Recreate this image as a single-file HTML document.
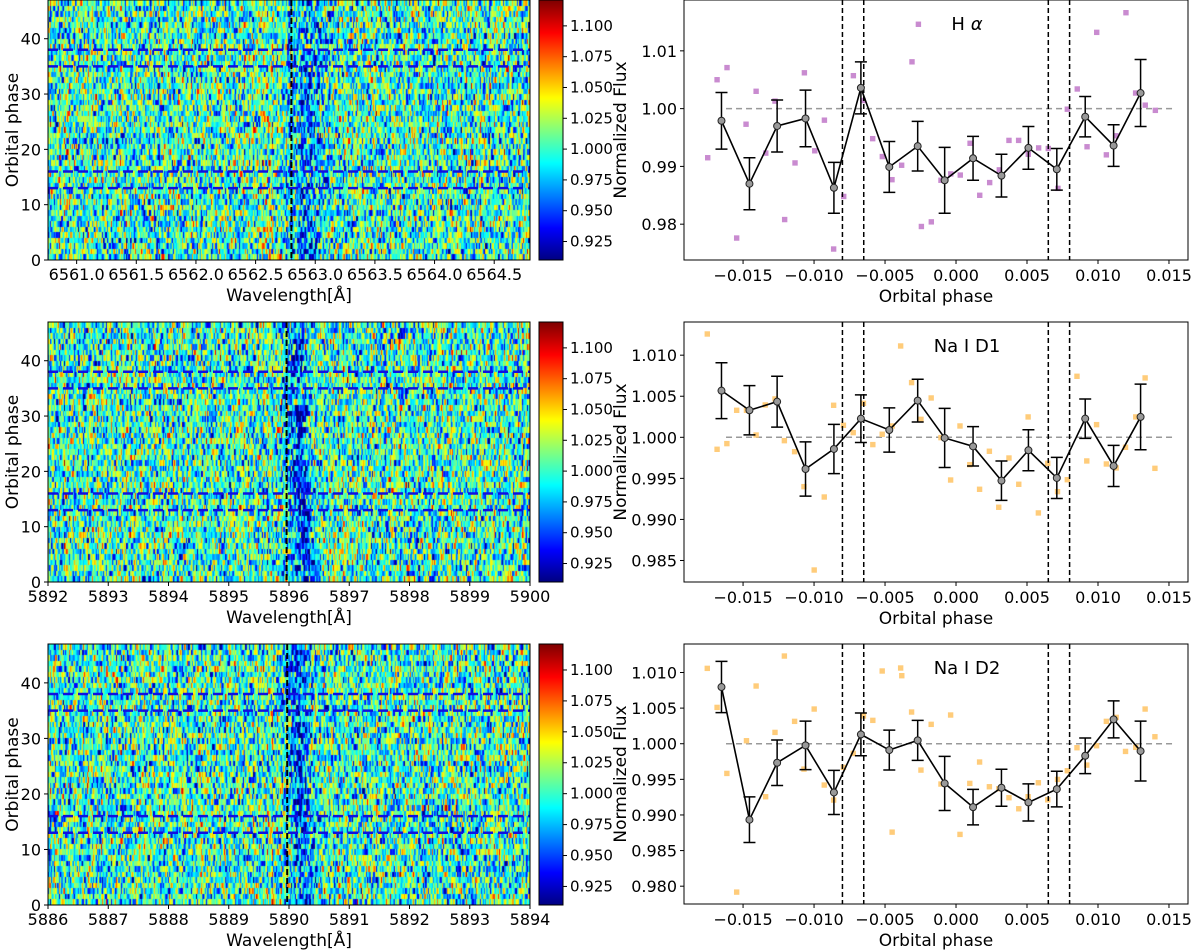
<!DOCTYPE html>
<html><head><meta charset="utf-8"><style>
body{margin:0;background:#fff;width:1200px;height:950px;overflow:hidden;position:relative;font-family:"DejaVu Sans","Liberation Sans",sans-serif}
canvas{position:absolute}
svg{position:absolute;left:0;top:0}
</style></head><body>
<canvas id="hm0" width="482" height="260" style="left:48px;top:0px"></canvas>
<canvas id="hm1" width="482" height="260" style="left:48px;top:322px"></canvas>
<canvas id="hm2" width="482" height="261" style="left:48px;top:644px"></canvas>
<canvas id="cb0" width="24" height="260" style="left:539px;top:0px"></canvas>
<canvas id="cb1" width="24" height="260" style="left:539px;top:322px"></canvas>
<canvas id="cb2" width="24" height="261" style="left:539px;top:644px"></canvas>
<svg id="svg" width="1200" height="950" xmlns="http://www.w3.org/2000/svg"></svg>
<script>
// ---------- data ----------
const heatWaveMin = [6560.76, 5892, 5886];
const heatWaveMax = [6564.80, 5900, 5894];
const heatWaveTicks = [[6561.0,6561.5,6562.0,6562.5,6563.0,6563.5,6564.0,6564.5],[5892,5893,5894,5895,5896,5897,5898,5899,5900],[5886,5887,5888,5889,5890,5891,5892,5893,5894]];
const heatWaveTickDigits = [1,0,0];
const heatLineCenter = [6562.80, 5895.96, 5889.97];
const heatDipCenter = [6562.92, 5896.12, 5890.12];
const heatDipDepth = [0.03, 0.05, 0.05];
const heatDipWidth = [0.12, 0.12, 0.12];
const heatPhaseTicks = [0,10,20,30,40];
const heatPhaseMax = 47;
const heatBlueLines = [38,35,16,13];
const cbTicks = [1.100,1.075,1.050,1.025,1.000,0.975,0.950,0.925];
const cbMin = 0.910, cbMax = 1.121;

const binPhase = [-0.01652,-0.01455,-0.0126,-0.0106,-0.0086,-0.0067,-0.0047,-0.0027,-0.0008,0.0012,0.0032,0.0051,0.0071,0.0091,0.0111,0.0130];
const haBin = [0.9979,0.9870,0.9970,0.9983,0.9863,1.0036,0.9899,0.9935,0.9876,0.9914,0.9884,0.9932,0.9895,0.9986,0.9936,1.0027];
const haErr = [0.0049,0.0045,0.0045,0.0049,0.0044,0.0045,0.0044,0.0043,0.0057,0.0038,0.0037,0.0037,0.0036,0.0035,0.0036,0.0058];
const d1Bin = [1.00568,1.00329,1.00434,0.99614,0.99858,1.00227,1.00089,1.00447,0.99992,0.9989,0.99472,0.99842,0.99505,1.00227,0.99651,1.00248];
const d1Err = [0.0034,0.0030,0.0031,0.0033,0.0030,0.0029,0.0027,0.0026,0.0036,0.0024,0.0024,0.0025,0.0025,0.0024,0.0025,0.0040];
const d2Bin = [1.00796,0.98933,0.99733,0.99977,0.99316,1.00131,0.99911,1.00047,0.99443,0.99110,0.99382,0.99176,0.99363,0.99831,1.00342,0.99897];
const d2Err = [0.0036,0.0032,0.0032,0.0034,0.0031,0.0030,0.0028,0.0028,0.0038,0.0025,0.0026,0.0026,0.0025,0.0025,0.0026,0.0042];

const haRawPhase = [-0.01749,-0.01683,-0.01613,-0.01545,-0.01479,-0.01408,-0.0134,-0.01275,-0.01207,-0.01134,-0.01068,-0.00995,-0.00927,-0.00862,-0.00791,-0.00723,-0.00655,-0.00587,-0.00519,-0.00451,-0.00383,-0.0031,-0.00265,-0.00244,-0.00174,-0.00106,-0.00037,0.0003,0.00099,0.00167,0.00237,0.00305,0.00373,0.00441,0.00509,0.00582,0.0065,0.00718,0.00784,0.00854,0.00923,0.00991,0.01059,0.01127,0.01197,0.01265,0.01333,0.01404];
const haRaw = [0.9915,1.0050,1.0071,0.9776,0.9973,1.0030,0.9923,1.0013,0.9808,0.9906,1.0062,0.9927,0.9980,0.9757,0.9848,1.0057,1.0014,0.9948,0.9917,0.9877,0.9902,1.0081,1.0146,0.9796,0.9804,0.9876,0.9887,0.9885,0.9940,0.9850,0.9872,0.9894,0.9945,0.9945,0.9921,0.9932,0.9931,0.9862,0.9999,1.0034,0.9934,1.0132,0.9920,0.9953,1.0166,1.0027,1.0006,0.9997];
const d1RawPhase = [-0.01752,-0.01683,-0.01614,-0.01545,-0.01476,-0.01408,-0.01344,-0.01275,-0.01209,-0.01137,-0.01071,-0.00999,-0.00928,-0.00862,-0.00793,-0.00724,-0.00652,-0.00586,-0.0052,-0.0045,-0.0039,-0.00313,-0.00247,-0.00175,-0.00106,-0.00038,0.00028,0.00097,0.00166,0.00235,0.00301,0.00373,0.00442,0.00508,0.0058,0.00646,0.00715,0.00784,0.00852,0.00921,0.0099,0.01059,0.01128,0.01194,0.01266,0.01332,0.01401];
const d1Raw = [1.01258,0.99854,0.99923,1.00329,1.00329,1.00028,1.00394,1.00467,0.99959,0.99825,0.99399,0.98384,0.99273,1.0039,1.00146,1.00057,1.00414,0.99911,1.00037,1.00138,1.01112,1.00666,1.00219,1.00479,0.99996,0.9948,1.00138,0.99667,0.99367,0.9983,0.99148,0.99748,0.99428,1.00248,0.99079,0.99683,0.99338,0.99484,1.00743,0.99712,1.00154,0.99675,0.99627,0.99878,1.00248,1.00723,0.99622];
const d2RawPhase = [-0.01752,-0.01683,-0.01614,-0.01545,-0.01476,-0.01408,-0.01341,-0.01275,-0.01209,-0.01137,-0.01071,-0.00999,-0.00928,-0.00862,-0.00793,-0.00724,-0.00652,-0.00586,-0.0052,-0.0045,-0.0039,-0.00382,-0.00313,-0.00247,-0.00175,-0.00106,-0.00038,0.00028,0.00097,0.00166,0.00235,0.00301,0.00373,0.00442,0.00508,0.0058,0.00646,0.00715,0.00784,0.00852,0.00921,0.0099,0.01059,0.01128,0.01194,0.01266,0.01332,0.01401];
const d2Raw = [1.01058,1.0051,0.99583,0.97917,1.00042,1.0081,0.99256,1.00159,1.01231,1.00314,0.99644,1.00487,0.9942,0.99209,0.99668,0.99864,1.00389,1.00328,1.01021,0.98759,1.01063,1.00955,1.00445,0.9963,1.00272,0.99434,1.00403,0.98727,0.99443,0.99743,0.99396,0.99368,0.99242,0.99087,0.99256,0.99452,0.99213,0.99499,0.99621,0.99944,0.997,0.99972,1.00314,1.0037,0.99892,0.99949,1.00487,1.00098];
const transitLines = [-0.0080,-0.0065,0.0065,0.0080];
const phaseTicks = [-0.015,-0.010,-0.005,0.000,0.005,0.010,0.015];
const fluxTicks = [[0.98,0.99,1.00,1.01],[0.985,0.990,0.995,1.000,1.005,1.010],[0.980,0.985,0.990,0.995,1.000,1.005,1.010]];
const fluxTickDigits = [2,3,3];
const fluxMin = [0.9738,0.98238,0.9775], fluxMax = [1.0188,1.01404,1.0140];
const panelTitles = ["H ","Na I D1","Na I D2"];

// ---------- layout ----------
const panelTop = [0,322,644], panelBot = [260,582,905];
const hmL = 48, hmR = 530, cbL = 539, cbR = 563;
const axL = 684, axR = 1188, phMin = -0.01916, phMax = 0.01634;
const NS = "http://www.w3.org/2000/svg";
const svg = document.getElementById('svg');
function el(tag, attrs, parent){const e=document.createElementNS(NS,tag);for(const k in attrs)e.setAttribute(k,attrs[k]);(parent||svg).appendChild(e);return e;}
function txt(s,x,y,size,anchor,parent,rot){const t=el('text',{x:x,y:y,'font-size':size,'text-anchor':anchor||'middle',fill:'#000','font-family':'DejaVu Sans, Liberation Sans, sans-serif'},parent);if(rot)t.setAttribute('transform','rotate(-90 '+x+' '+y+')');t.textContent=s;return t;}
function fmt(v,d){const s=Math.abs(v).toFixed(d);return (v<0?'\u2212':'')+s;}
function jet(t){t=Math.max(0,Math.min(1,t));const c=v=>Math.round(255*Math.max(0,Math.min(1,v)));return [c(1.5-Math.abs(4*t-3)),c(1.5-Math.abs(4*t-2)),c(1.5-Math.abs(4*t-1))];}
function hash(i,j,k){let h=(i*374761393+j*668265263+k*2147483647)|0;h=(h^(h>>>13))*1274126177|0;h=h^(h>>>16);return ((h>>>0)%100000)/100000;}

// ---------- heatmaps ----------
for(let p=0;p<3;p++){
  const cv=document.getElementById('hm'+p),ctx=cv.getContext('2d');
  const W=cv.width,H=cv.height,nCols=380,nRows=heatPhaseMax;
  const img=ctx.createImageData(W,H);
  const raw=[];
  for(let r=0;r<nRows;r++){raw[r]=[];for(let c=0;c<nCols;c++){const g=(hash(c,r,p)+hash(c,r,p+7)+hash(c,r,p+13)-1.5)*2;raw[r][c]=g;}}
  for(let y=0;y<H;y++){
    const ph=heatPhaseMax*(1-(y+0.5)/H);const r=Math.min(nRows-1,Math.floor(ph));
    for(let x=0;x<W;x++){
      const fc=(x+0.5)/W*nCols;const c=Math.min(nCols-1,Math.floor(fc));
      const c2=Math.min(nCols-1,c+1),f=fc-c;
      let n=raw[r][c]*(1-f)+raw[r][c2]*f;
      const wl=heatWaveMin[p]+(heatWaveMax[p]-heatWaveMin[p])*(x+0.5)/W;
      const shift=(p>0?0.18*(1-ph/heatPhaseMax)*(1-ph/heatPhaseMax):0.0);
      const d=(wl-heatDipCenter[p]-shift)/heatDipWidth[p];
      const rowVar=0.5+hash(r,c>>3,p+31);
      let v=1+0.045*n-heatDipDepth[p]*rowVar*Math.exp(-d*d/2);
      if(p===0){const d2=(wl-6562.62)/0.1;v+=0.015*Math.exp(-d2*d2/2);}
      const col=jet((v-cbMin)/(cbMax-cbMin));const i=(y*W+x)*4;
      img.data[i]=col[0];img.data[i+1]=col[1];img.data[i+2]=col[2];img.data[i+3]=255;
    }
  }
  ctx.putImageData(img,0,0);
  const cb=document.getElementById('cb'+p),cc=cb.getContext('2d');
  for(let y=0;y<cb.height;y++){const col=jet(1-y/cb.height);cc.fillStyle='rgb('+col+')';cc.fillRect(0,y,cb.width,1);}
}

for(let p=0;p<3;p++){
  const T=panelTop[p],B=panelBot[p];
  const g=el('g',{});
  
  
  const xs=w=>hmL+(w-heatWaveMin[p])/(heatWaveMax[p]-heatWaveMin[p])*(hmR-hmL);
  const ys=v=>B-v/heatPhaseMax*(B-T);
  heatBlueLines.forEach(v=>{const l=el('line',{x1:hmL,x2:hmR,y1:ys(v),y2:ys(v),stroke:'#1010e0','stroke-width':2.5,'stroke-dasharray':'10,5'},g);
    
    });
  const vl=el('line',{x1:xs(heatLineCenter[p]),x2:xs(heatLineCenter[p]),y1:T,y2:B,stroke:'#000','stroke-width':2,'stroke-dasharray':'6,3'},g);
  
  
  el('rect',{x:hmL,y:T,width:hmR-hmL,height:B-T,fill:'none',stroke:'#000','stroke-width':1},g);
  heatWaveTicks[p].forEach(w=>{const x=xs(w);el('line',{x1:x,x2:x,y1:B,y2:B+4,stroke:'#000'},g);
    const t=txt(w.toFixed(heatWaveTickDigits[p]),x,B+20,16,'middle',g);
    
    });
  heatPhaseTicks.forEach(v=>{const y=ys(v);el('line',{x1:hmL-4,x2:hmL,y1:y,y2:y,stroke:'#000'},g);
    const t=txt(String(v),hmL-7,y+6,16,'end',g);
    
    });
  const xl=txt('Wavelength[\u00c5]',(hmL+hmR)/2,B+41,17,'middle',g);
  
  
  const yl=txt('Orbital phase',18,(T+B)/2,17,'middle',g,true);
  
  
  el('rect',{x:cbL,y:T,width:cbR-cbL,height:B-T,fill:'none',stroke:'#000','stroke-width':1},g);
  cbTicks.forEach(v=>{const y=B-(v-cbMin)/(cbMax-cbMin)*(B-T);el('line',{x1:cbR,x2:cbR+4,y1:y,y2:y,stroke:'#000'},g);
    const t=txt(v.toFixed(3),cbR+7,y+5,15,'start',g);
    
    });
}

// ---------- light curves ----------
const bins=[haBin,d1Bin,d2Bin],errs=[haErr,d1Err,d2Err];
const rawP=[haRawPhase,d1RawPhase,d2RawPhase],rawV=[haRaw,d1Raw,d2Raw];
const rawCol=['#c98bd0','#ffcc7a','#ffcc7a'];
for(let p=0;p<3;p++){
  const T=panelTop[p],B=panelBot[p]-(p===2?1:0);
  const g=el('g',{});
  
  
  const xs=v=>axL+(v-phMin)/(phMax-phMin)*(axR-axL);
  const ys=v=>B-(v-fluxMin[p])/(fluxMax[p]-fluxMin[p])*(B-T);
  const h=el('line',{x1:xs(-0.0162),x2:xs(0.0153),y1:ys(1),y2:ys(1),stroke:'#999','stroke-width':1.5,'stroke-dasharray':'6,4'},g);
  
  
  rawP[p].forEach((ph,i)=>{const s=el('rect',{x:xs(ph)-2.7,y:ys(rawV[p][i])-2.7,width:5.4,height:5.4,fill:rawCol[p]},g);
    
    });
  transitLines.forEach(v=>{const l=el('line',{x1:xs(v),x2:xs(v),y1:T,y2:B,stroke:'#000','stroke-width':1.5,'stroke-dasharray':'5,3'},g);
    
    });
  binPhase.forEach((ph,i)=>{const x=xs(ph),y1=ys(bins[p][i]+errs[p][i]),y2=ys(bins[p][i]-errs[p][i]);
    const e=el('path',{d:`M${x},${y1}V${y2}M${x-6},${y1}H${x+6}M${x-6},${y2}H${x+6}`,stroke:'#000','stroke-width':1.5,fill:'none'},g);
    
    });
  const pl=el('polyline',{points:binPhase.map((ph,i)=>xs(ph)+','+ys(bins[p][i])).join(' '),fill:'none',stroke:'#000','stroke-width':1.6},g);
  
  
  binPhase.forEach((ph,i)=>{const c=el('circle',{cx:xs(ph),cy:ys(bins[p][i]),r:3.5,fill:'#999',stroke:'#222','stroke-width':1},g);
    
    });
  el('rect',{x:axL,y:T,width:axR-axL,height:B-T,fill:'none',stroke:'#000','stroke-width':1},g);
  phaseTicks.forEach(v=>{const x=xs(v);el('line',{x1:x,x2:x,y1:B,y2:B+4,stroke:'#000'},g);
    const t=txt(fmt(v,3),x,B+21,16,'middle',g);
    
    });
  fluxTicks[p].forEach(v=>{const y=ys(v);el('line',{x1:axL-4,x2:axL,y1:y,y2:y,stroke:'#000'},g);
    const t=txt(v.toFixed(fluxTickDigits[p]),axL-7,y+6,16,'end',g);
    
    });
  const xl=txt('Orbital phase',(axL+axR)/2,B+42,17,'middle',g);
  
  
  const yl=txt('Normalized Flux',626,(T+B)/2,17,'middle',g,true);
  
  
  const tt=txt(panelTitles[p],967,T+30,18,'middle',g);
  if(p===0){const ts=document.createElementNS(NS,'tspan');ts.setAttribute('font-style','italic');ts.textContent='\u03b1';tt.appendChild(ts);}
  
  
}
</script>
</body></html>
